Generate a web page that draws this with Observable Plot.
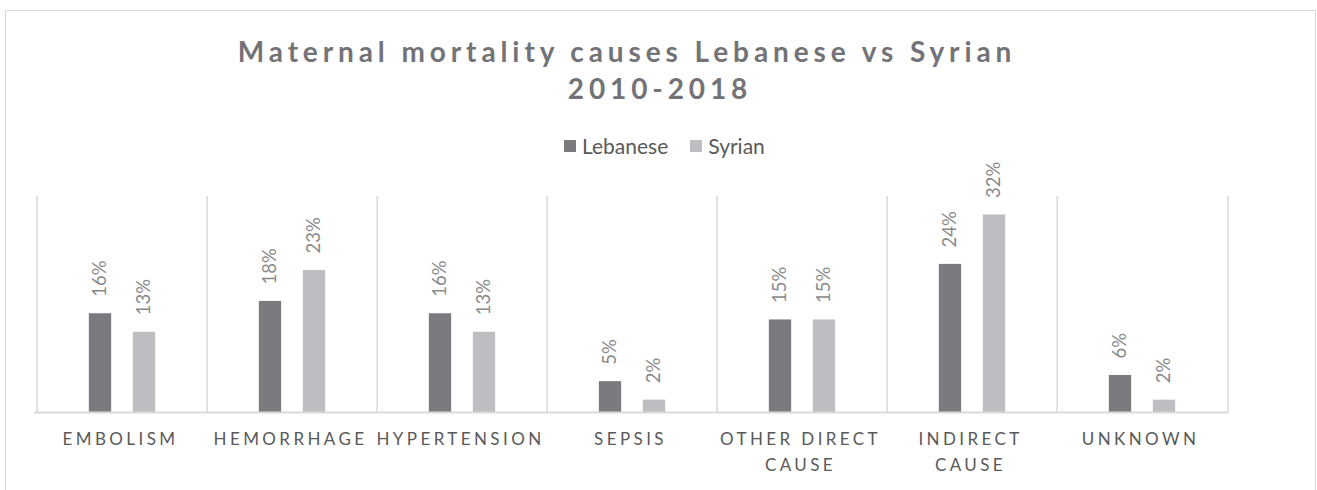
<!DOCTYPE html>
<html>
<head>
<meta charset="utf-8">
<script src="https://cdn.jsdelivr.net/npm/d3@7"></script>
<script src="https://cdn.jsdelivr.net/npm/@observablehq/plot@0.6"></script>
<style>
  html, body { margin: 0; padding: 0; background: #fff; }
  #wrap { position: relative; width: 1317px; height: 490px; overflow: hidden; font-family: Lato, "Open Sans", sans-serif; }
  #frame { position: absolute; left: 5px; top: 10px; width: 1311px; height: 500px; border: 1px solid #d9d9d9; box-sizing: border-box; }
  #head { position: relative; height: 150px; }
  .t { position: absolute; white-space: nowrap; font-weight: 700; color: #737377; font-size: 28px; letter-spacing: 4.9px; transform: translateX(-50%); }
  #legend { position: absolute; top: 133px; left: 564px; display: flex; align-items: center; font-size: 21px; color: #595959; z-index: 2; }
  #legend .sw { width: 12px; height: 12px; display: inline-block; margin-right: 6px; }
  #chart { position: relative; }
  #chart svg { display: block; }
  g[aria-label="x-axis tick label"] text { letter-spacing: 3.4px; }
</style>
</head>
<body>
<div id="wrap">
  <div id="frame"></div>
  <div id="head">
    <div class="t" id="t1" style="left:627px; top:34px;"></div>
    <div class="t" id="t2" style="left:660px; top:71px;"></div>
    <div id="legend"></div>
  </div>
  <div id="chart"></div>
</div>
<script>
const titleLines = ["Maternal mortality causes Lebanese vs Syrian", "2010-2018"];
const seriesNames = ["Lebanese", "Syrian"];
const seriesColors = ["#7b7b7f", "#bdbec2"];
const causes = ["Embolism", "Hemorrhage", "Hypertension", "Sepsis", "Other direct cause", "Indirect cause", "Unknown"];
const causeLabels = ["EMBOLISM", "HEMORRHAGE", "HYPERTENSION", "SEPSIS", "OTHER DIRECT\nCAUSE", "INDIRECT\nCAUSE", "UNKNOWN"];
const lebanese = [0.16, 0.18, 0.16, 0.05, 0.15, 0.24, 0.06];
const syrian = [0.13, 0.23, 0.13, 0.02, 0.15, 0.32, 0.02];

document.getElementById("t1").textContent = titleLines[0];
document.getElementById("t2").textContent = titleLines[1];
const legend = document.getElementById("legend");
seriesNames.forEach((s, i) => {
  const item = document.createElement("span");
  item.style.display = "inline-flex";
  item.style.alignItems = "center";
  item.style.marginRight = i === 0 ? "22px" : "0";
  item.innerHTML = `<span class="sw" style="background:${seriesColors[i]}"></span>${s}`;
  legend.appendChild(item);
});

const leb = causes.map((c, i) => ({cause: c, value: lebanese[i], series: seriesNames[0]}));
const syr = causes.map((c, i) => ({cause: c, value: syrian[i], series: seriesNames[1]}));

const width = 1317, height = 340;
const mL = 34, mR = 88, mT = 46, mB = 78;
const step = (width - mL - mR) / causes.length;
const barW = 23, off = 22;
const inset = (step - barW) / 2;
const grid = "#d9d9d9";
const fmt = d3.format(".0%");

const labelMap = new Map(causes.map((c, i) => [c, causeLabels[i]]));

const chart = Plot.plot({
  width, height,
  marginLeft: mL, marginRight: mR, marginTop: mT, marginBottom: mB,
  style: {fontFamily: "Lato, 'Open Sans', sans-serif", background: "transparent", overflow: "visible"},
  x: {domain: causes, padding: 0, axis: null},
  y: {domain: [0, 0.35], axis: null},
  marks: [
    Plot.ruleX(causes, {x: d => d, dx: -step / 2, stroke: grid, strokeWidth: 1.5}),
    Plot.ruleX(causes.slice(-1), {x: d => d, dx: step / 2, stroke: grid, strokeWidth: 1.5}),
    Plot.barY(leb, {x: "cause", y: "value", fill: seriesColors[0], insetLeft: inset, insetRight: inset, dx: -off}),
    Plot.barY(syr, {x: "cause", y: "value", fill: seriesColors[1], insetLeft: inset, insetRight: inset, dx: off}),
    Plot.ruleY([0], {stroke: grid, strokeWidth: 2}),
    Plot.text(leb, {x: "cause", y: "value", text: d => fmt(d.value), rotate: -90, textAnchor: "start", lineAnchor: "middle", dx: -off, dy: -17, fill: "#8a8a8a", fontSize: 18.5}),
    Plot.text(syr, {x: "cause", y: "value", text: d => fmt(d.value), rotate: -90, textAnchor: "start", lineAnchor: "middle", dx: off, dy: -17, fill: "#8a8a8a", fontSize: 18.5}),
    Plot.axisX({tickSize: 0, tickPadding: 15, fontSize: 17, lineHeight: 1.48, fill: "#595959", tickFormat: d => labelMap.get(d), dx: -2, label: null})
  ]
});
document.getElementById("chart").appendChild(chart);
</script>
</body>
</html>
